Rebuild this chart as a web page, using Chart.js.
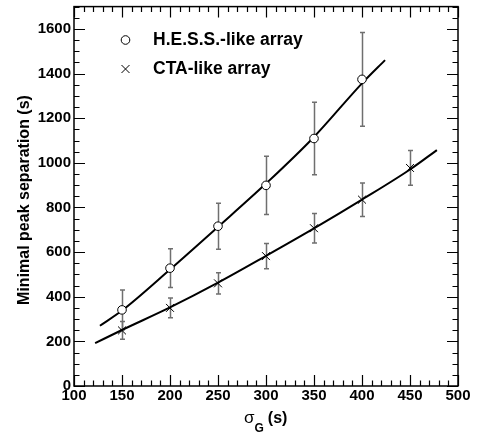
<!DOCTYPE html>
<html>
<head>
<meta charset="utf-8">
<script src="https://cdn.jsdelivr.net/npm/chart.js@4.4.0/dist/chart.umd.min.js"></script>
<style>
  html, body { margin: 0; padding: 0; background: #fff; }
  #wrap { width: 489px; height: 436px; }
</style>
</head>
<body>
<div id="wrap"><canvas id="peakChart" width="489" height="436"></canvas></div>
<script>
/* Minimal peak separation vs sigma_G */
const HESS_X = [150, 200, 250, 300, 350, 400];
const HESS_Y = [341, 528, 716, 899, 1109, 1374];
const HESS_ERR = [89, 87, 103, 130, 162, 210];

const CTA_X = [150, 200, 250, 300, 350, 400, 450];
const CTA_Y = [249, 350, 460, 582, 707, 835, 977];
const CTA_ERR = [40, 44, 48, 57, 66, 75, 78];

// fitted curves
const HESS_FIT_X = [127, 150, 200, 250, 300, 350, 400, 424];
const HESS_FIT_Y = [270, 338, 522, 713, 907, 1116, 1356, 1460];
const CTA_FIT_X = [122, 150, 200, 250, 300, 350, 400, 450, 478];
const CTA_FIT_Y = [192, 251, 352, 463, 583, 706, 835, 970, 1057];

const X_TICKS = [100, 150, 200, 250, 300, 350, 400, 450, 500];
const Y_TICKS = [0, 200, 400, 600, 800, 1000, 1200, 1400, 1600];

const LEGEND = ['H.E.S.S.-like array', 'CTA-like array'];
const Y_TITLE = 'Minimal peak separation (s)';

const FONT = "'Liberation Sans', Arial, Helvetica, sans-serif";

const pts = (xs, ys) => xs.map((x, i) => ({ x, y: ys[i] }));

const errorBars = {
  id: 'errorBars',
  beforeDatasetsDraw(chart) {
    const { ctx, scales: { x, y } } = chart;
    chart.data.datasets.forEach(ds => {
      if (!ds.errors) return;
      const gap = ds.pointStyle === 'circle' ? ds.pointRadius : 0;
      ctx.save();
      ctx.strokeStyle = '#6f6f6f';
      ctx.lineWidth = 1.5;
      ds.data.forEach((p, i) => {
        const e = ds.errors[i];
        const px = Math.round(x.getPixelForValue(p.x)) + 0.5;
        const py = y.getPixelForValue(p.y);
        const top = y.getPixelForValue(p.y + e);
        const bot = y.getPixelForValue(p.y - e);
        ctx.beginPath();
        ctx.moveTo(px, top); ctx.lineTo(px, py - gap);
        ctx.moveTo(px, py + gap); ctx.lineTo(px, bot);
        ctx.moveTo(px - 2.5, top); ctx.lineTo(px + 2.5, top);
        ctx.moveTo(px - 2.5, bot); ctx.lineTo(px + 2.5, bot);
        ctx.stroke();
      });
      ctx.restore();
    });
  }
};

const frameAndText = {
  id: 'frameAndText',
  afterDraw(chart) {
    const { ctx, chartArea: a, scales: { x, y } } = chart;
    ctx.save();
    ctx.strokeStyle = '#000';
    ctx.lineWidth = 1.5;
    ctx.strokeRect(a.left, a.top, a.right - a.left, a.bottom - a.top);

    // inward ticks on all four sides
    ctx.lineWidth = 1.2;
    ctx.beginPath();
    for (let v = 100; v <= 500; v += 10) {
      const px = Math.round(x.getPixelForValue(v)) + 0.5;
      const len = v % 50 === 0 ? 11 : 5.5;
      ctx.moveTo(px, a.bottom); ctx.lineTo(px, a.bottom - len);
      ctx.moveTo(px, a.top); ctx.lineTo(px, a.top + len);
    }
    for (let v = 0; v <= 1700; v += 50) {
      const py = Math.round(y.getPixelForValue(v)) + 0.5;
      const len = v % 200 === 0 ? 11 : 5.5;
      ctx.moveTo(a.left, py); ctx.lineTo(a.left + len, py);
      ctx.moveTo(a.right, py); ctx.lineTo(a.right - len, py);
    }
    ctx.stroke();

    // legend
    const lx = a.left + 51.5;
    const hy = 40, cy = 69;
    ctx.lineWidth = 1;
    ctx.beginPath();
    ctx.arc(lx, hy, 4.3, 0, Math.PI * 2);
    ctx.stroke();
    ctx.beginPath();
    ctx.moveTo(lx - 4, cy - 4); ctx.lineTo(lx + 4, cy + 4);
    ctx.moveTo(lx - 4, cy + 4); ctx.lineTo(lx + 4, cy - 4);
    ctx.stroke();
    ctx.fillStyle = '#000';
    ctx.font = 'bold 17.5px ' + FONT;
    ctx.textBaseline = 'middle';
    ctx.textAlign = 'left';
    ctx.fillText(LEGEND[0], a.left + 79, hy);
    ctx.fillText(LEGEND[1], a.left + 79, cy);

    // x title: sigma_G (s)
    let tx = 244;
    const base = 422.5;
    ctx.textBaseline = 'alphabetic';
    ctx.font = '17px ' + FONT;
    ctx.fillText('σ', tx, base);
    tx += ctx.measureText('σ').width;
    ctx.font = 'bold 12px ' + FONT;
    ctx.fillText('G', tx, base + 9);
    tx += ctx.measureText('G').width + 4;
    ctx.font = 'bold 16px ' + FONT;
    ctx.fillText('(s)', tx, base);

    // y title
    ctx.translate(25, 200);
    ctx.rotate(-Math.PI / 2);
    ctx.textAlign = 'center';
    ctx.textBaseline = 'middle';
    ctx.font = 'bold 16px ' + FONT;
    ctx.fillText(Y_TITLE, 0, 0);
    ctx.restore();
  }
};

new Chart(document.getElementById('peakChart'), {
  type: 'scatter',
  data: {
    datasets: [
      {
        label: LEGEND[0],
        data: pts(HESS_X, HESS_Y),
        errors: HESS_ERR,
        pointStyle: 'circle',
        pointRadius: 4.3,
        pointBorderWidth: 1,
        pointBorderColor: '#000',
        pointBackgroundColor: '#fff',
        showLine: false,
      },
      {
        label: LEGEND[1],
        data: pts(CTA_X, CTA_Y),
        errors: CTA_ERR,
        pointStyle: 'crossRot',
        pointRadius: 5.6,
        pointBorderWidth: 1,
        pointBorderColor: '#000',
        showLine: false,
      },
      {
        data: pts(HESS_FIT_X, HESS_FIT_Y),
        showLine: true,
        borderColor: '#000',
        borderWidth: 2,
        pointRadius: 0,
        cubicInterpolationMode: 'monotone',
      },
      {
        data: pts(CTA_FIT_X, CTA_FIT_Y),
        showLine: true,
        borderColor: '#000',
        borderWidth: 2,
        pointRadius: 0,
        cubicInterpolationMode: 'monotone',
      },
    ],
  },
  options: {
    responsive: false,
    animation: false,
    devicePixelRatio: 1,
    layout: { padding: { top: 1, right: 31, left: 0, bottom: 0 } },
    plugins: { legend: { display: false }, tooltip: { enabled: false } },
    scales: {
      x: {
        type: 'linear',
        min: 100,
        max: 500,
        afterBuildTicks: s => { s.ticks = X_TICKS.map(v => ({ value: v })); },
        afterFit: s => { s.height = 50; s.paddingLeft = 0; s.paddingRight = 0; },
        grid: { display: false, drawTicks: false },
        border: { display: false },
        ticks: {
          padding: 1, color: '#000', maxRotation: 0, autoSkip: false,
          font: { family: FONT, size: 15, weight: 'bold' },
          callback: v => String(v),
        },
      },
      y: {
        type: 'linear',
        min: 0,
        max: 1700,
        afterBuildTicks: s => { s.ticks = Y_TICKS.map(v => ({ value: v })); },
        afterFit: s => { s.width = 74; s.paddingTop = 0; s.paddingBottom = 0; },
        grid: { display: false, drawTicks: false },
        border: { display: false },
        ticks: {
          padding: 3, color: '#000', autoSkip: false,
          font: { family: FONT, size: 15, weight: 'bold' },
          callback: v => String(v),
        },
      },
    },
  },
  plugins: [errorBars, frameAndText],
});
</script>
</body>
</html>
